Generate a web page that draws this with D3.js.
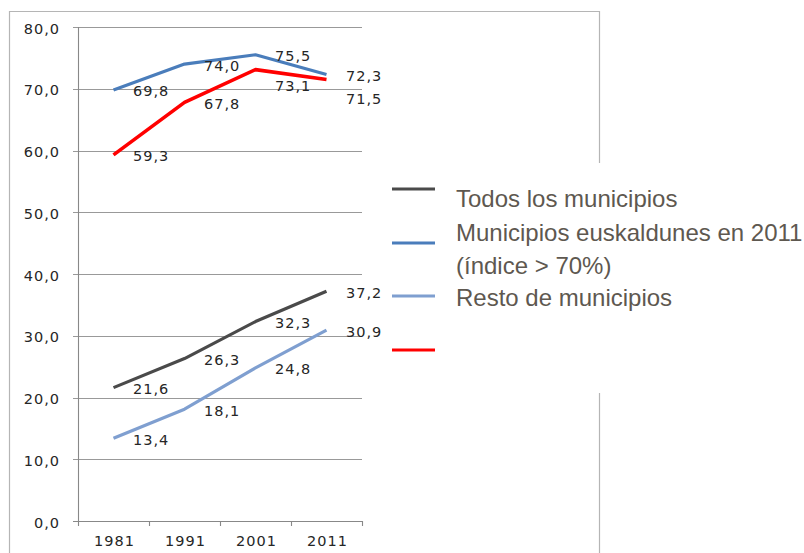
<!DOCTYPE html>
<html>
<head>
<meta charset="utf-8">
<script src="https://cdn.jsdelivr.net/npm/d3@7"></script>
<style>
  body { margin:0; background:#fff; }
  svg { display:block; }
  .tick-lbl { font-family:'DejaVu Sans', Verdana, sans-serif; font-size:14.5px; fill:#262626; letter-spacing:1px; }
  .legend-lbl { font-family:'Liberation Sans', Arial, sans-serif; font-size:24px; fill:#5e5850; }
</style>
</head>
<body>
<div id="canvas"></div>
<script>
// data
var years = ['1981','1991','2001','2011'];
var todos = [21.6, 26.3, 32.3, 37.2];
var euskaldunes = [69.8, 74.0, 75.5, 72.3];
var resto = [13.4, 18.1, 24.8, 30.9];
var rojo = [59.3, 67.8, 73.1, 71.5];
var yTicks = [0,10,20,30,40,50,60,70,80];
var legendLines = ['Todos los municipios', 'Municipios euskaldunes en 2011', '(índice > 70%)', 'Resto de municipios'];

var W = 804, H = 553;

var svg = d3.select('#canvas')
    .append('svg')
    .attr('width', W)
    .attr('height', H);

var fmt = function(v){ return d3.format('.1f')(v).replace('.', ','); };

var x = d3.scaleBand().domain(years).range([78, 362]);
var y = d3.scaleLinear().domain([0, 80]).range([521, 27]);

// outer frame (right edge interrupted by the legend)
var frame = svg.append('g').attr('fill','none').attr('stroke','#b5b5b5').attr('stroke-width',1.2);
frame.append('path').attr('d', 'M9.5,' + H + 'V11.5H599.5V163');
frame.append('path').attr('d', 'M599.5,393V' + H);

// gridlines + y labels
var grid = svg.append('g');
grid.selectAll('line')
    .data(yTicks)
    .enter().append('line')
    .attr('x1', 73).attr('x2', 362)
    .attr('y1', function(d){ return Math.round(y(d)) + 0.5; })
    .attr('y2', function(d){ return Math.round(y(d)) + 0.5; })
    .attr('stroke', function(d){ return d === 0 ? '#888' : '#999'; })
    .attr('stroke-width', 1.1);
grid.selectAll('text')
    .data(yTicks)
    .enter().append('text')
    .attr('class','tick-lbl')
    .attr('x', 60)
    .attr('y', function(d){ return y(d) + 6.5; })
    .attr('text-anchor','end')
    .text(fmt);

// y axis line
svg.append('line')
    .attr('x1', 78.5).attr('x2', 78.5)
    .attr('y1', y(80)).attr('y2', y(0) + 5)
    .attr('stroke', '#888').attr('stroke-width', 1.1);

// x axis tick marks at band edges
var edges = years.map(function(d){ return x(d); }).concat([x.range()[1]]);
svg.append('g').selectAll('line')
    .data(edges.slice(1))
    .enter().append('line')
    .attr('x1', function(d){ return Math.round(d) + 0.5; })
    .attr('x2', function(d){ return Math.round(d) + 0.5; })
    .attr('y1', y(0)).attr('y2', y(0) + 5)
    .attr('stroke', '#888').attr('stroke-width', 1.1);

svg.append('g').selectAll('text')
    .data(years)
    .enter().append('text')
    .attr('class','tick-lbl')
    .attr('x', function(d){ return x(d) + x.bandwidth()/2 + 1; })
    .attr('y', 546)
    .attr('text-anchor','middle')
    .text(function(d){ return d; });

// series
var series = [
    {key:'todos', values:todos, color:'#4a4a4a', width:3.2},
    {key:'euskaldunes', values:euskaldunes, color:'#4a7dbb', width:3.2},
    {key:'resto', values:resto, color:'#7f9fd0', width:3.2},
    {key:'rojo', values:rojo, color:'#ff0000', width:3.6}
];

// red labels at 2001 / 2011 sit lower to avoid the blue line
var labelDy = {rojo: [6.5, 6.5, 21, 25]};

var line = d3.line()
    .x(function(d, i){ return x(years[i]) + x.bandwidth()/2; })
    .y(function(d){ return y(d); });

var g = svg.selectAll('.series')
    .data(series)
    .enter().append('g').attr('class','series');

g.append('path')
    .attr('d', function(d){ return line(d.values); })
    .attr('fill','none')
    .attr('stroke', function(d){ return d.color; })
    .attr('stroke-width', function(d){ return d.width; })
    .attr('stroke-linejoin','round');

g.each(function(s){
    d3.select(this).selectAll('text')
        .data(s.values)
        .enter().append('text')
        .attr('class','tick-lbl')
        .attr('x', function(d, i){ return x(years[i]) + x.bandwidth()/2 + 19.5; })
        .attr('y', function(d, i){ return y(d) + (labelDy[s.key] ? labelDy[s.key][i] : 6.5); })
        .text(fmt);
});

// legend
var legY = [189, 243, 296, 350];
var legend = svg.append('g');
legend.selectAll('line')
    .data(series)
    .enter().append('line')
    .attr('x1', 392).attr('x2', 435)
    .attr('y1', function(d, i){ return legY[i]; })
    .attr('y2', function(d, i){ return legY[i]; })
    .attr('stroke', function(d){ return d.color; })
    .attr('stroke-width', 3.2);

var txtY = [207, 241, 274, 306];
legend.selectAll('text')
    .data(legendLines)
    .enter().append('text')
    .attr('class','legend-lbl')
    .attr('x', 456)
    .attr('y', function(d, i){ return txtY[i]; })
    .text(function(d){ return d; });
</script>
</body>
</html>
